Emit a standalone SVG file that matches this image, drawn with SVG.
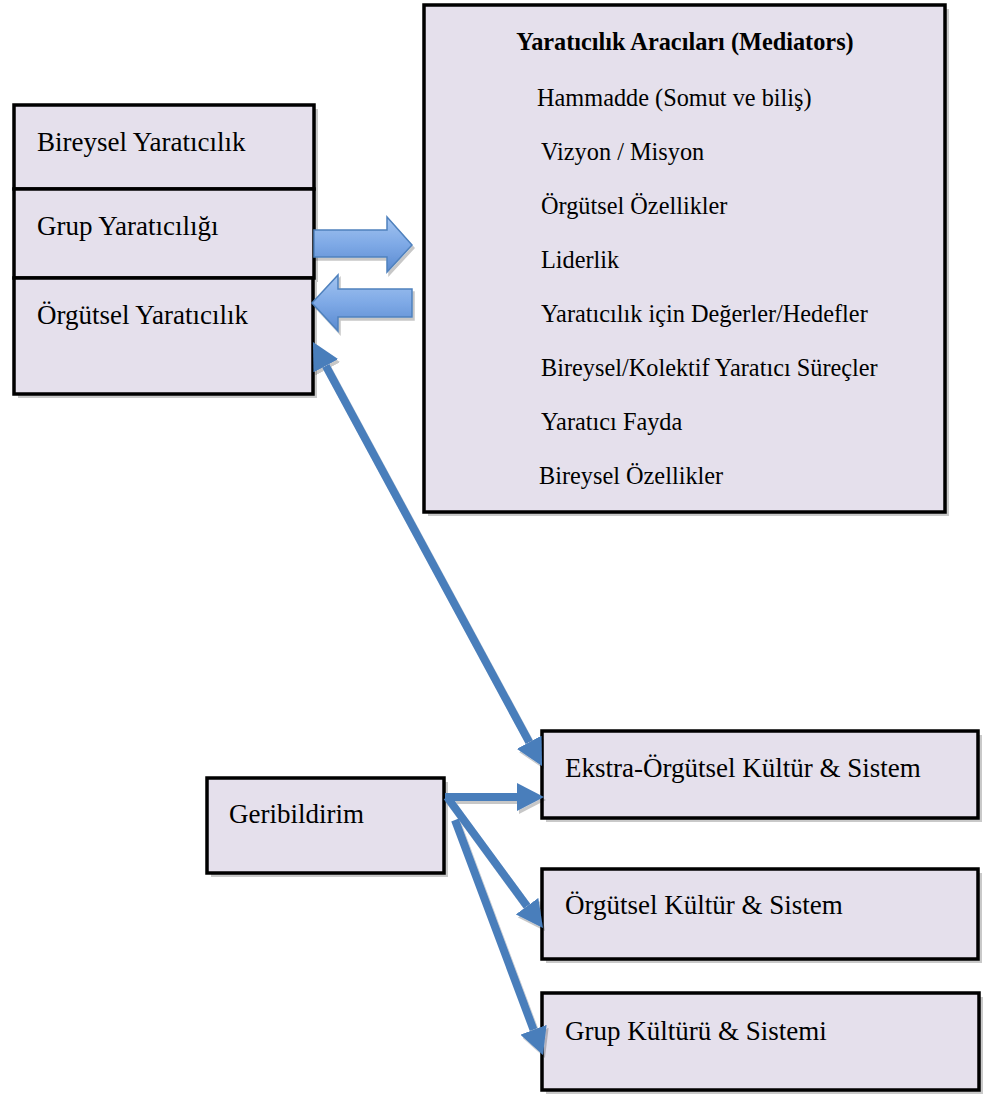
<svg xmlns="http://www.w3.org/2000/svg" width="989" height="1097" viewBox="0 0 989 1097">
<style>
.box{fill:#E5E0EC;stroke:#000;stroke-width:3.5}
.sh{fill:#C9C9C9}
.t{font-family:"Liberation Serif","Times New Roman",serif;font-size:27px;fill:#000}
.li{font-family:"Liberation Serif","Times New Roman",serif;font-size:24.3px;fill:#000}
.ti{font-family:"Liberation Serif","Times New Roman",serif;font-size:24.3px;font-weight:bold;fill:#000}
.con{stroke:#4A7EBB;stroke-width:8;fill:none}
.blk{fill:url(#bg);stroke:#4F81BD;stroke-width:1.5}
</style>
<defs>
<linearGradient id="bg" x1="0" y1="0" x2="0" y2="1">
<stop offset="0" stop-color="#A3C4F0"/>
<stop offset="0.5" stop-color="#7EA9E6"/>
<stop offset="1" stop-color="#5A8AD0"/>
</linearGradient>
<marker id="ah" viewBox="0 -14 27 28" refX="0" refY="0" markerWidth="27" markerHeight="28" markerUnits="userSpaceOnUse" orient="auto-start-reverse">
<path d="M0,-14 L27,0 L0,14 z" fill="#4A7EBB"/>
</marker>
<filter id="ds" x="-20%" y="-20%" width="140%" height="140%">
<feOffset in="SourceAlpha" dx="2" dy="3" result="o"/>
<feFlood flood-color="#000" flood-opacity="0.22"/>
<feComposite in2="o" operator="in" result="s"/>
<feMerge><feMergeNode in="s"/><feMergeNode in="SourceGraphic"/></feMerge>
</filter>
</defs>
<rect width="989" height="1097" fill="#fff"/>

<g id="mediators">
<rect class="sh" x="428" y="9" width="521" height="507"/>
<rect class="box" x="424" y="5" width="521" height="507"/>
<text class="ti" x="685" y="50" text-anchor="middle">Yaratıcılık Aracıları (Mediators)</text>
<text class="li" x="537" y="106">Hammadde (Somut ve biliş)</text>
<text class="li" x="541" y="160">Vizyon / Misyon</text>
<text class="li" x="541" y="214">Örgütsel Özellikler</text>
<text class="li" x="541" y="268">Liderlik</text>
<text class="li" x="541" y="322">Yaratıcılık için Değerler/Hedefler</text>
<text class="li" x="541" y="376">Bireysel/Kolektif Yaratıcı Süreçler</text>
<text class="li" x="541" y="430">Yaratıcı Fayda</text>
<text class="li" x="539" y="484">Bireysel Özellikler</text>
</g>

<g id="bireysel">
<rect class="sh" x="18" y="109" width="300" height="84"/>
<rect class="box" x="14" y="105" width="300" height="84"/>
<text class="t" x="37" y="151">Bireysel Yaratıcılık</text>
</g>
<g id="grup">
<rect class="sh" x="18" y="193" width="300" height="89"/>
<rect class="box" x="14" y="189" width="300" height="89"/>
<text class="t" x="37" y="235">Grup Yaratıcılığı</text>
</g>
<g id="orgutsel">
<rect class="sh" x="18" y="282" width="299" height="116"/>
<rect class="box" x="14" y="278" width="299" height="116"/>
<text class="t" x="37" y="324">Örgütsel Yaratıcılık</text>
</g>

<g id="geribildirim">
<rect class="sh" x="211" y="782" width="237" height="95"/>
<rect class="box" x="207" y="778" width="237" height="95"/>
<text class="t" x="229" y="823">Geribildirim</text>
</g>
<g id="ekstra">
<rect class="sh" x="546" y="735" width="436" height="87"/>
<rect class="box" x="542" y="731" width="436" height="87"/>
<text class="t" x="565" y="777">Ekstra-Örgütsel Kültür &amp; Sistem</text>
</g>
<g id="orgkultur">
<rect class="sh" x="546" y="873" width="436" height="90"/>
<rect class="box" x="542" y="869" width="436" height="90"/>
<text class="t" x="565" y="914">Örgütsel Kültür &amp; Sistem</text>
</g>
<g id="grupkultur">
<rect class="sh" x="546" y="997" width="437" height="97"/>
<rect class="box" x="542" y="993" width="437" height="97"/>
<text class="t" x="565" y="1040">Grup Kültürü &amp; Sistemi</text>
</g>

<g id="connectors" filter="url(#ds)">
<path class="blk" d="M314,230 L387,230 L387,217 L412,245 L387,272 L387,257 L314,257 z"/>
<path class="blk" d="M412,289 L338,289 L338,275 L312,303 L338,331 L338,317 L412,317 z"/>
<path class="con" d="M325.8,365.8 L529.2,742.2" marker-start="url(#ah)" marker-end="url(#ah)"/>
<path class="con" d="M445,797 L517,797" marker-end="url(#ah)"/>
<path class="con" d="M447,797 L527,906.2" marker-end="url(#ah)"/>
<path class="con" d="M455,820 L533.5,1029.7" marker-end="url(#ah)"/>
</g>
</svg>
